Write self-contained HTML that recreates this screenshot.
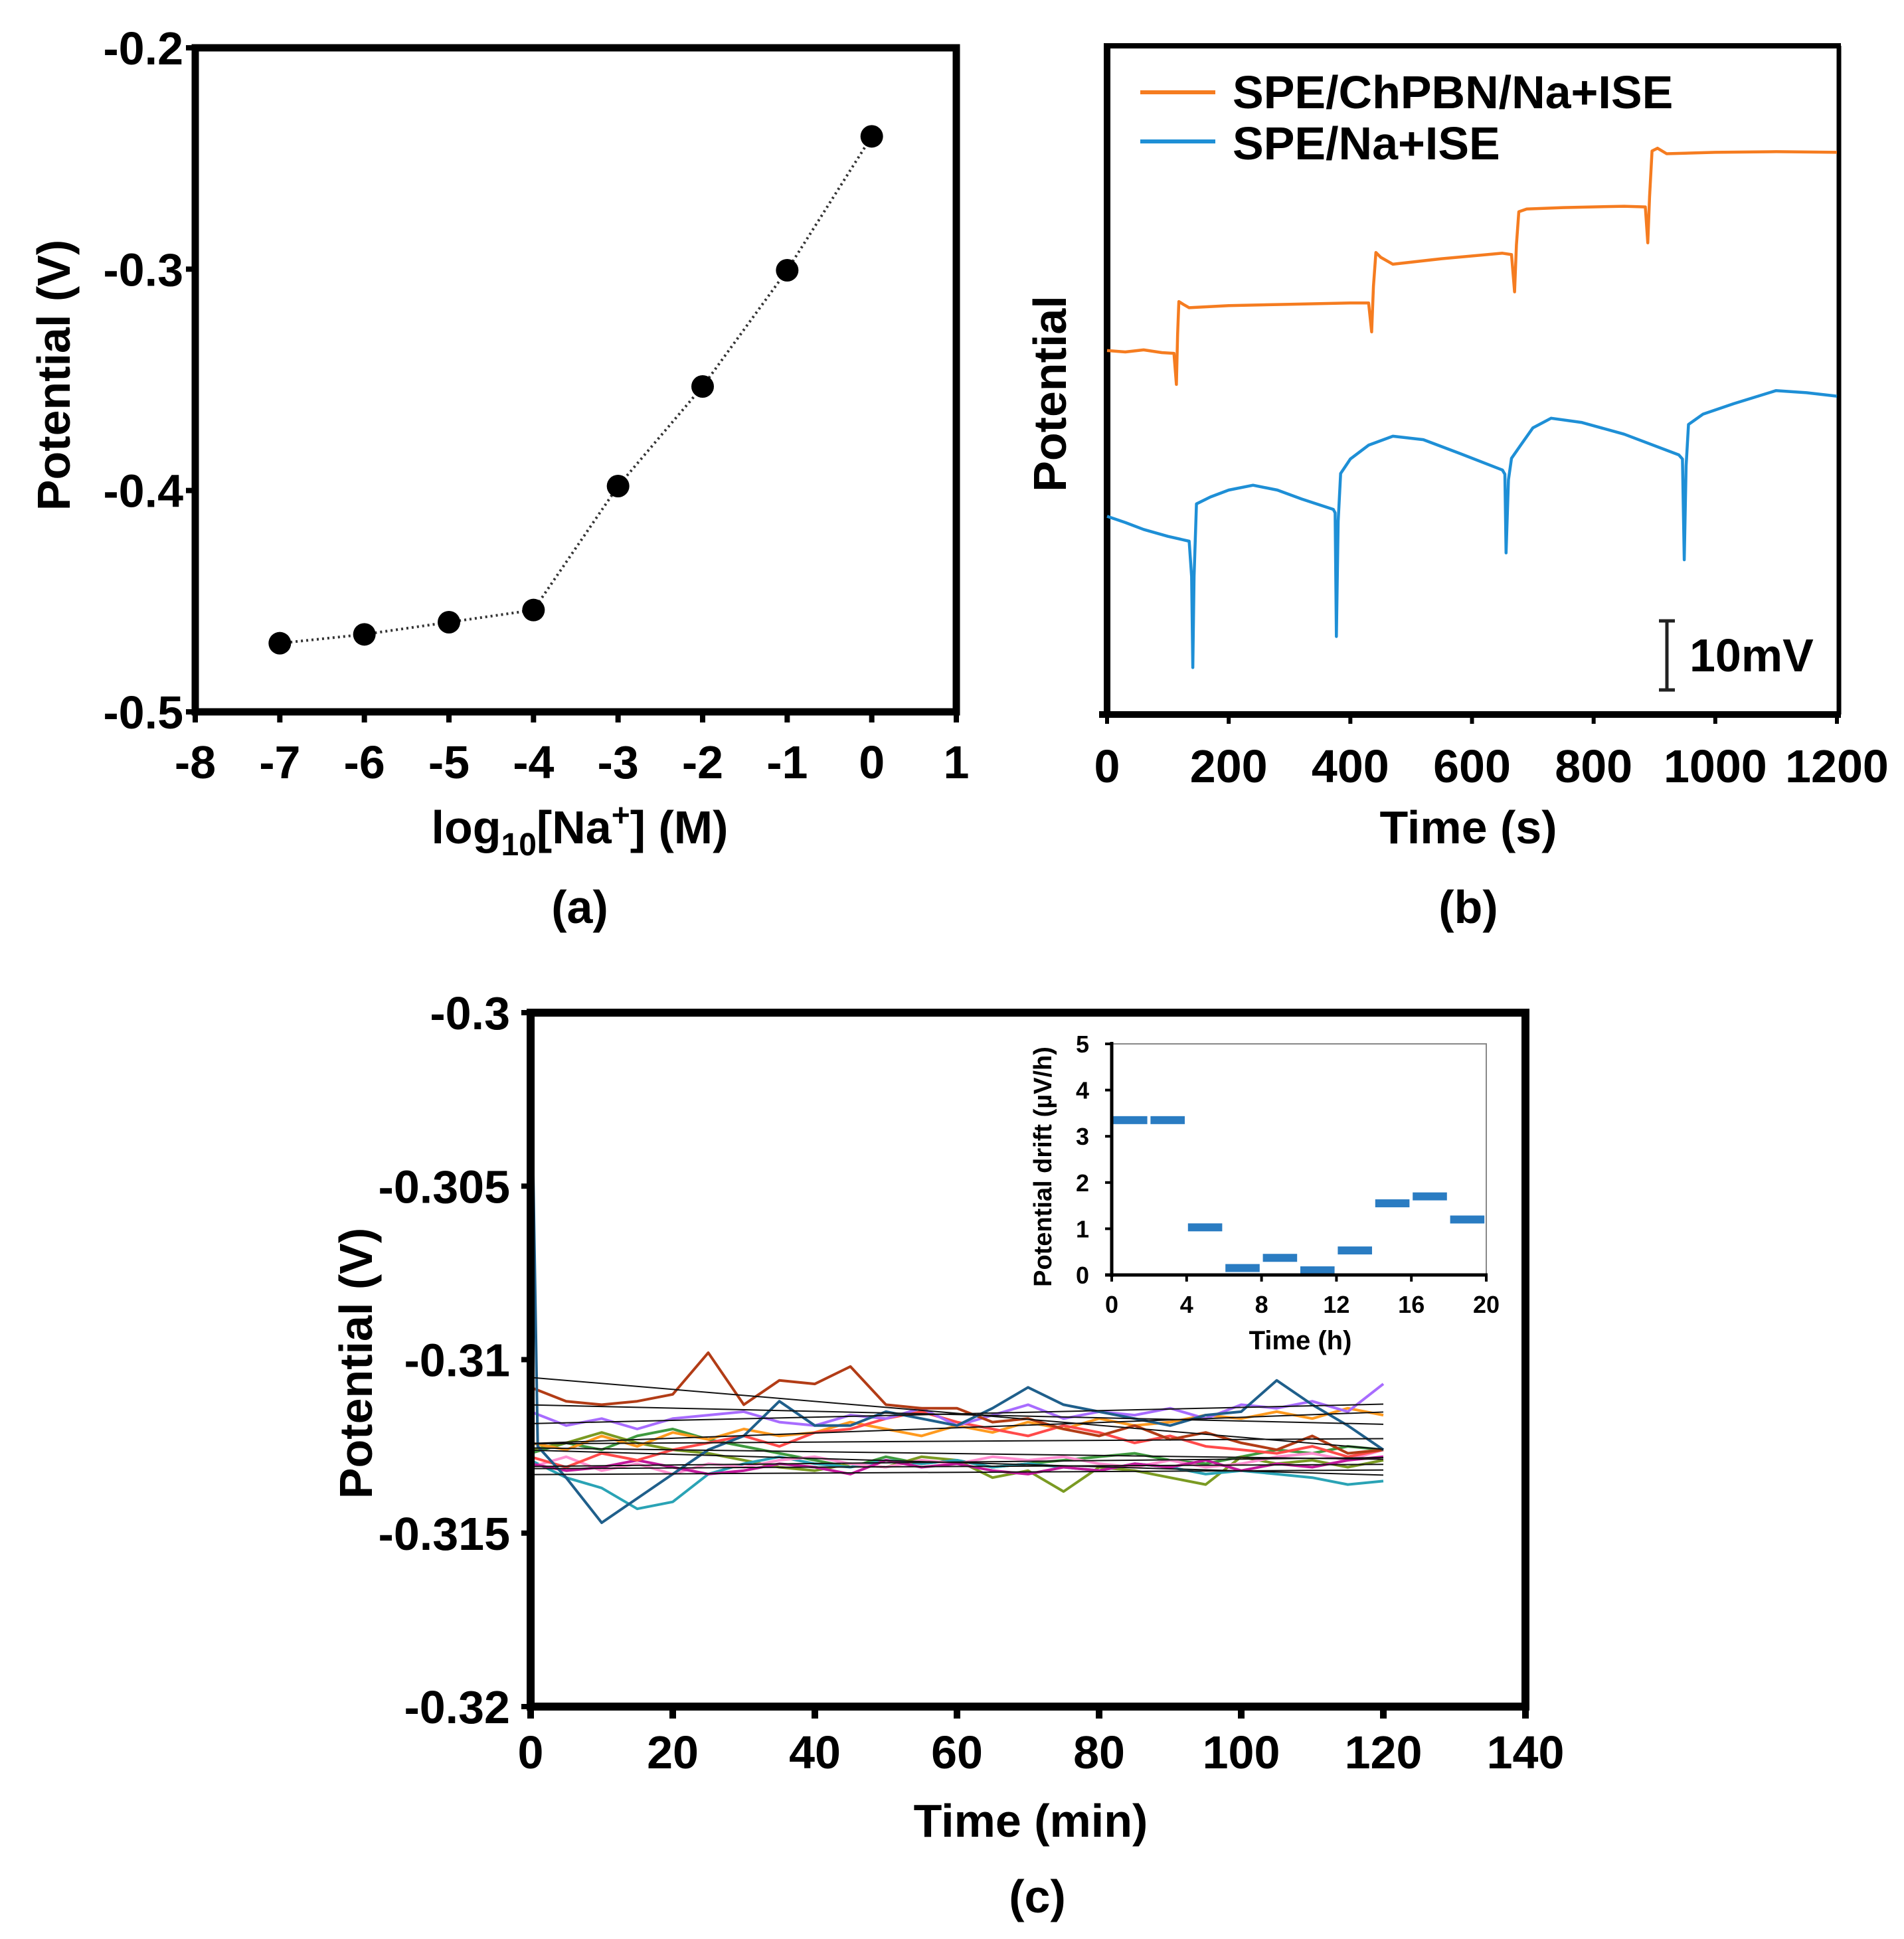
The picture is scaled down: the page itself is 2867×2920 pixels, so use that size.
<!DOCTYPE html>
<html>
<head>
<meta charset="utf-8">
<style>
  html,body{margin:0;padding:0;background:#fff;}
  svg{display:block;}
  text{font-family:"Liberation Sans",Arial,sans-serif;font-weight:bold;fill:#000;}
</style>
</head>
<body>
<svg id="fig" width="2867" height="2920" viewBox="0 0 2867 2920" xmlns="http://www.w3.org/2000/svg">
  <rect x="0" y="0" width="2867" height="2920" fill="#fff"/>
  <g id="pa"></g>
  <g id="pb"></g>
  <g id="pc"></g>
</svg>
<script>
// ---------- Panel (a) data ----------
const aLogConc = [-7, -6, -5, -4, -3, -2, -1, 0];
const aPotential = [-0.469, -0.465, -0.4595, -0.454, -0.398, -0.353, -0.3005, -0.240];
const aXTicks = [-8, -7, -6, -5, -4, -3, -2, -1, 0, 1];
const aYTicks = [-0.2, -0.3, -0.4, -0.5];
const aYTickLabels = ["-0.2", "-0.3", "-0.4", "-0.5"];

// ---------- Panel (b) data (mV, arbitrary offset) ----------
const bOrangeT = [0,30,60,90,110,114,116,118,125,135,200,300,400,430,435,438,442,450,470,550,650,665,670,673,677,690,750,850,885,889,892,896,905,920,1000,1100,1200];
const bOrangeV = [52.7,52.5,52.8,52.4,52.3,47.8,55,59.8,59.4,58.9,59.2,59.4,59.6,59.6,55.4,62,66.9,66.2,65.2,66,66.8,66.6,61.2,68,72.8,73.2,73.4,73.6,73.5,68.3,75,81.6,82,81.2,81.4,81.5,81.4];
const bBlueT = [0,30,60,100,135,139,141,143,147,170,200,240,280,320,372,375,377,380,384,400,430,470,520,580,650,654,656,660,665,680,700,730,780,850,940,946,949,952,956,980,1030,1100,1150,1200];
const bBlueV = [28.7,27.8,26.8,25.8,25.1,20,6.8,20,30.5,31.5,32.5,33.2,32.5,31.2,29.7,29.2,11.3,28,34.9,37,39,40.3,39.8,37.8,35.4,34.8,23.4,34,37.1,39,41.5,42.9,42.3,40.6,37.6,37.0,22.4,36,42,43.5,45,46.9,46.6,46.1];
const bXTicks = [0, 200, 400, 600, 800, 1000, 1200];

// ---------- Panel (c) data ----------
const cTime = [0,5,10,15,20,25,30,35,40,45,50,55,60,65,70,75,80,85,90,95,100,105,110,115,120];
const cDarkBlueT = [0,1,5,10,15,20,25,30,35,40,45,50,55,60,65,70,75,80,85,90,95,100,105,110,115,120];
const cDarkBlue = [-0.3000,-0.3125,-0.3134,-0.3147,-0.3140,-0.3133,-0.3126,-0.3122,-0.3112,-0.3119,-0.3119,-0.3115,-0.3117,-0.3119,-0.3114,-0.3108,-0.3113,-0.3115,-0.3117,-0.3119,-0.3116,-0.3115,-0.3106,-0.3113,-0.3119,-0.3126];
const cBrown = [-0.3108,-0.3112,-0.3113,-0.3112,-0.3110,-0.3098,-0.3113,-0.3106,-0.3107,-0.3102,-0.3113,-0.3114,-0.3114,-0.3118,-0.3117,-0.3120,-0.3122,-0.3119,-0.3123,-0.3121,-0.3124,-0.3126,-0.3122,-0.3127,-0.3126];
const cPurple = [-0.3115,-0.3119,-0.3117,-0.3120,-0.3117,-0.3116,-0.3115,-0.3118,-0.3119,-0.3116,-0.3117,-0.3114,-0.3119,-0.3116,-0.3113,-0.3117,-0.3115,-0.3116,-0.3114,-0.3117,-0.3113,-0.3114,-0.3112,-0.3115,-0.3107];
const cOrange = [-0.3124,-0.3126,-0.3122,-0.3125,-0.3121,-0.3123,-0.3120,-0.3122,-0.3121,-0.3118,-0.3120,-0.3122,-0.3119,-0.3121,-0.3118,-0.3120,-0.3117,-0.3119,-0.3118,-0.3116,-0.3117,-0.3115,-0.3117,-0.3114,-0.3116];
const cOlive = [-0.3126,-0.3124,-0.3121,-0.3124,-0.3126,-0.3127,-0.3129,-0.3131,-0.3132,-0.3130,-0.3131,-0.3128,-0.3129,-0.3134,-0.3132,-0.3138,-0.3131,-0.3132,-0.3134,-0.3136,-0.3128,-0.3130,-0.3129,-0.3131,-0.3129];
const cTeal = [-0.3129,-0.3134,-0.3137,-0.3143,-0.3141,-0.3133,-0.3130,-0.3128,-0.3130,-0.3131,-0.3129,-0.3130,-0.3129,-0.3131,-0.3130,-0.3131,-0.3132,-0.3130,-0.3131,-0.3133,-0.3132,-0.3133,-0.3134,-0.3136,-0.3135];
const cPink = [-0.3131,-0.3128,-0.3132,-0.3130,-0.3133,-0.3130,-0.3131,-0.3129,-0.3128,-0.3130,-0.3131,-0.3129,-0.3130,-0.3128,-0.3129,-0.3128,-0.3130,-0.3131,-0.3129,-0.3131,-0.3130,-0.3128,-0.3127,-0.3129,-0.3126];
const cMagenta = [-0.3130,-0.3132,-0.3131,-0.3129,-0.3131,-0.3133,-0.3132,-0.3130,-0.3131,-0.3133,-0.3129,-0.3131,-0.3130,-0.3132,-0.3133,-0.3131,-0.3132,-0.3130,-0.3131,-0.3129,-0.3132,-0.3130,-0.3131,-0.3129,-0.3128];
const cRed = [-0.3128,-0.3131,-0.3127,-0.3129,-0.3126,-0.3124,-0.3122,-0.3125,-0.3121,-0.3120,-0.3117,-0.3115,-0.3118,-0.3120,-0.3122,-0.3119,-0.3121,-0.3124,-0.3122,-0.3125,-0.3126,-0.3127,-0.3125,-0.3128,-0.3126];
const cGreen = [-0.3127,-0.3124,-0.3126,-0.3122,-0.3120,-0.3123,-0.3125,-0.3127,-0.3129,-0.3131,-0.3128,-0.3130,-0.3129,-0.3131,-0.3130,-0.3129,-0.3128,-0.3127,-0.3129,-0.3130,-0.3128,-0.3126,-0.3127,-0.3125,-0.3126];
const cXTicks = [0,20,40,60,80,100,120,140];
const cYTicks = [-0.3,-0.305,-0.31,-0.315,-0.32];
const cYTickLabels = ["-0.3","-0.305","-0.31","-0.315","-0.32"];

// inset
const insetStart = [0,2,4,6,8,10,12,14,16,18];
const insetDrift = [3.35,3.35,1.03,0.15,0.37,0.1,0.53,1.55,1.7,1.2];
const insetXTicks = [0,4,8,12,16,20];
const insetYTicks = [0,1,2,3,4,5];

const NS = "http://www.w3.org/2000/svg";
function mk(parent, tag, attrs, txt){
  const e = document.createElementNS(NS, tag);
  for (const k in attrs) e.setAttribute(k, attrs[k]);
  if (txt !== undefined) e.textContent = txt;
  parent.appendChild(e);
  return e;
}
function linePath(xs, ys, fx, fy){
  return xs.map((x,i)=>(i?"L":"M")+fx(x).toFixed(1)+" "+fy(ys[i]).toFixed(1)).join(" ");
}

// ===================== Panel A =====================
(function(){
  const g = document.getElementById("pa");
  const L=294, R=1440, T=72, B=1072;
  const fx = v => L + (v - (-8)) / 9 * (R - L);
  const fy = v => T + (-0.2 - v) / 0.3 * (B - T);
  let e;
  e = mk(g,"rect",{x:L,y:T,width:R-L,height:B-T,fill:"none",stroke:"#000","stroke-width":11});
  
  
  aYTicks.forEach((v,i)=>{
    const t = mk(g,"line",{x1:L-14,x2:L,y1:fy(v),y2:fy(v),stroke:"#000","stroke-width":8});
    
    
    const lb = mk(g,"text",{x:L-18,y:fy(v)+25,"font-size":70,"text-anchor":"end"},aYTickLabels[i]);
    
    
  });
  aXTicks.forEach(v=>{
    const t = mk(g,"line",{x1:fx(v),x2:fx(v),y1:B,y2:B+16,stroke:"#000","stroke-width":8});
    
    
    const lb = mk(g,"text",{x:fx(v),y:1172,"font-size":70,"text-anchor":"middle"},String(v));
    
    
  });
  e = mk(g,"path",{d:linePath(aLogConc,aPotential,fx,fy),fill:"none",stroke:"#333","stroke-width":4,"stroke-dasharray":"3 5"});
  
  
  aLogConc.forEach((x,i)=>{
    const c = mk(g,"circle",{cx:fx(x),cy:fy(aPotential[i]),r:17,fill:"#000"});
    
    
  });
  e = mk(g,"text",{x:0,y:0,"font-size":70,"text-anchor":"middle",transform:"translate(105,565) rotate(-90)"},"Potential (V)");
  
  
  e = mk(g,"text",{x:873,y:1270,"font-size":70,"text-anchor":"middle"});
  e.innerHTML = 'log<tspan font-size="48" dy="18">10</tspan><tspan dy="-18">[Na</tspan><tspan font-size="48" dy="-26">+</tspan><tspan dy="26">] (M)</tspan>';
  
  
  e = mk(g,"text",{x:873,y:1390,"font-size":70,"text-anchor":"middle"},"(a)");
  
  
})();

// ===================== Panel B =====================
(function(){
  const g = document.getElementById("pb");
  const L=1667, R=2766, T=69, B=1076;
  const fx = v => L + v/1200*(R-L);
  const fy = v => B - v*10.4;
  let e;
  e = mk(g,"line",{x1:L,x2:R+6,y1:T,y2:T,stroke:"#000","stroke-width":8});
  
  
  e = mk(g,"line",{x1:R+3,x2:R+3,y1:T,y2:B,stroke:"#000","stroke-width":7});
  
  
  e = mk(g,"line",{x1:L,x2:L,y1:T-4,y2:B+4,stroke:"#000","stroke-width":10});
  
  
  e = mk(g,"line",{x1:L-12,x2:R+6,y1:B,y2:B,stroke:"#000","stroke-width":10});
  
  
  bXTicks.forEach(v=>{
    const t = mk(g,"line",{x1:fx(v),x2:fx(v),y1:B,y2:B+14,stroke:"#000","stroke-width":6});
    
    
    const lb = mk(g,"text",{x:fx(v),y:1178,"font-size":70,"text-anchor":"middle"},String(v));
    
    
  });
  e = mk(g,"path",{d:linePath(bOrangeT,bOrangeV,fx,fy),fill:"none",stroke:"#f57c20","stroke-width":4.5,"stroke-linejoin":"round"});
  
  
  e = mk(g,"path",{d:linePath(bBlueT,bBlueV,fx,fy),fill:"none",stroke:"#1e8fd6","stroke-width":4.5,"stroke-linejoin":"round"});
  
  
  // legend
  e = mk(g,"line",{x1:1717,x2:1830,y1:139,y2:139,stroke:"#f57c20","stroke-width":6});
  
  
  e = mk(g,"text",{x:1856,y:163,"font-size":70},"SPE/ChPBN/Na+ISE");
  
  
  e = mk(g,"line",{x1:1717,x2:1830,y1:213,y2:213,stroke:"#1e8fd6","stroke-width":6});
  
  
  e = mk(g,"text",{x:1856,y:240,"font-size":70},"SPE/Na+ISE");
  
  
  // scale bar
  e = mk(g,"path",{d:"M2498 935 H2522 M2510 935 V1039 M2498 1039 H2522",stroke:"#222","stroke-width":5,fill:"none"});
  
  
  e = mk(g,"text",{x:2544,y:1011,"font-size":70},"10mV");
  
  
  e = mk(g,"text",{x:0,y:0,"font-size":70,"text-anchor":"middle",transform:"translate(1605,593) rotate(-90)"},"Potential");
  
  
  e = mk(g,"text",{x:2211,y:1270,"font-size":70,"text-anchor":"middle"},"Time (s)");
  
  
  e = mk(g,"text",{x:2211,y:1390,"font-size":70,"text-anchor":"middle"},"(b)");
  
  
})();

// ===================== Panel C =====================
(function(){
  const g = document.getElementById("pc");
  const L=799, R=2297, T=1525, B=2570;
  const fx = v => L + v/140*(R-L);
  const fy = v => T + (-0.3 - v)/0.02*(B-T);
  let e;
  const series = [
    {t:cTime, v:cGreen, c:"#3f9a3f", n:"series-green"},
    {t:cTime, v:cOlive, c:"#7a9a22", n:"series-olive"},
    {t:cTime, v:cTeal, c:"#2aa3b5", n:"series-teal"},
    {t:cTime, v:cPink, c:"#ff8fd0", n:"series-pink"},
    {t:cTime, v:cMagenta, c:"#c0189a", n:"series-magenta"},
    {t:cTime, v:cOrange, c:"#ff9a1f", n:"series-orange"},
    {t:cTime, v:cRed, c:"#ff4a4a", n:"series-red"},
    {t:cTime, v:cPurple, c:"#a86cff", n:"series-purple"},
    {t:cTime, v:cBrown, c:"#b23c16", n:"series-brown"},
    {t:cDarkBlueT, v:cDarkBlue, c:"#1f5f8b", n:"series-dark-blue"}
  ];
  series.forEach(s=>{
    const p = mk(g,"path",{d:linePath(s.t,s.v,fx,fy),fill:"none",stroke:s.c,"stroke-width":4,"stroke-linejoin":"round"});
    
    
  });
  series.forEach(s=>{
    const n=s.t.length; let sx=0,sy=0,sxx=0,sxy=0;
    for(let i=0;i<n;i++){sx+=s.t[i];sy+=s.v[i];sxx+=s.t[i]*s.t[i];sxy+=s.t[i]*s.v[i];}
    const m=(n*sxy-sx*sy)/(n*sxx-sx*sx), b=(sy-m*sx)/n;
    const fl = mk(g,"line",{x1:fx(0),y1:fy(b),x2:fx(120),y2:fy(b+m*120),stroke:"#111","stroke-width":2});
    
    
  });
  e = mk(g,"rect",{x:L,y:T,width:R-L,height:B-T,fill:"none",stroke:"#000","stroke-width":12});
  
  
  cYTicks.forEach((v,i)=>{
    const t = mk(g,"line",{x1:L-14,x2:L,y1:fy(v),y2:fy(v),stroke:"#000","stroke-width":8});
    
    
    const lb = mk(g,"text",{x:768,y:fy(v)+25,"font-size":70,"text-anchor":"end"},cYTickLabels[i]);
    
    
  });
  cXTicks.forEach(v=>{
    const t = mk(g,"line",{x1:fx(v),x2:fx(v),y1:B,y2:B+18,stroke:"#000","stroke-width":10});
    
    
    const lb = mk(g,"text",{x:fx(v),y:2663,"font-size":70,"text-anchor":"middle"},String(v));
    
    
  });
  e = mk(g,"text",{x:0,y:0,"font-size":70,"text-anchor":"middle",transform:"translate(560,2053) rotate(-90)"},"Potential (V)");
  
  
  e = mk(g,"text",{x:1552,y:2766,"font-size":70,"text-anchor":"middle"},"Time (min)");
  
  
  e = mk(g,"text",{x:1562,y:2880,"font-size":70,"text-anchor":"middle"},"(c)");
  
  

  // ---- inset ----
  const iL=1674, iR=2238, iT=1572, iB=1920;
  const ix = v => iL + v/20*(iR-iL);
  const iy = v => iB - v/5*(iB-iT);
  const ig = mk(g,"g",{});
  
  
  e = mk(ig,"path",{d:`M${iL} ${iT} H${iR} V${iB}`,fill:"none",stroke:"#888","stroke-width":2});
  
  
  insetStart.forEach((s,i)=>{
    const r = mk(ig,"rect",{x:ix(s)+2,y:iy(insetDrift[i])-6,width:ix(s+1.9)-ix(s)-2,height:12,fill:"#2a7cc2"});
    
    
  });
  e = mk(ig,"line",{x1:iL,x2:iL,y1:iT-3,y2:iB+3,stroke:"#000","stroke-width":5});
  
  
  e = mk(ig,"line",{x1:iL-10,x2:iR+2,y1:iB,y2:iB,stroke:"#000","stroke-width":5});
  
  
  insetYTicks.forEach(v=>{
    const t = mk(ig,"line",{x1:iL-10,x2:iL,y1:iy(v),y2:iy(v),stroke:"#000","stroke-width":4});
    
    
    const lb = mk(ig,"text",{x:1640,y:iy(v)+13,"font-size":36,"font-weight":"normal","text-anchor":"end"},String(v));
    
    
  });
  insetXTicks.forEach(v=>{
    const t = mk(ig,"line",{x1:ix(v),x2:ix(v),y1:iB,y2:iB+10,stroke:"#000","stroke-width":4});
    
    
    const lb = mk(ig,"text",{x:ix(v),y:1977,"font-size":36,"font-weight":"normal","text-anchor":"middle"},String(v));
    
    
  });
  e = mk(ig,"text",{x:0,y:0,"font-size":38,"text-anchor":"middle",transform:"translate(1583,1757) rotate(-90)"},"Potential drift (µV/h)");
  
  
  e = mk(ig,"text",{x:1958,y:2032,"font-size":40,"text-anchor":"middle"},"Time (h)");
  
  
})();
</script>
</body>
</html>
